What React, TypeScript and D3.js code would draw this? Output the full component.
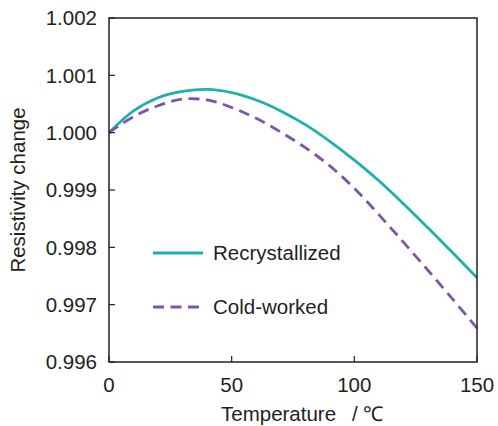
import React from 'react';
import * as d3 from 'd3';

// temperatures in °C
const temps = [0, 10, 20, 30, 40, 50, 60, 70, 80, 90, 100, 110, 120, 130, 140, 150];

// resistivity change (ratio)
const recrystallized = [
  1.0, 1.00038, 1.00061, 1.00072, 1.000755, 1.0007, 1.00057, 1.00038, 1.00014,
  0.99985, 0.99952, 0.99916, 0.99876, 0.99834, 0.99791, 0.99747,
];
const coldWorked = [
  1.0, 1.00028, 1.00047, 1.000585, 1.00057, 1.00044, 1.00025, 1.00001, 0.99974,
  0.99942, 0.99903, 0.99857, 0.99809, 0.9976, 0.9971, 0.99659,
];

const xTicks = [0, 50, 100, 150];
const yTicks = [0.996, 0.997, 0.998, 0.999, 1.0, 1.001, 1.002];

const series = [
  { name: 'Recrystallized', values: recrystallized, color: '#1fb0ab', dash: null },
  { name: 'Cold-worked', values: coldWorked, color: '#7d55a8', dash: '11,6.5' },
];

const W = 498;
const H = 426;
const margin = { top: 18, right: 21, bottom: 64, left: 109 };
const font = '"Liberation Sans", Arial, sans-serif';
const fs = 20.5;
const ink = '#231f20';

export default function App() {
  const x = d3.scaleLinear().domain([0, 150]).range([margin.left, W - margin.right]);
  const y = d3.scaleLinear().domain([0.996, 1.002]).range([H - margin.bottom, margin.top]);

  const line = d3
    .line<number>()
    .x((_, i) => x(temps[i]))
    .y((d) => y(d))
    .curve(d3.curveCatmullRom.alpha(0.5));

  const [x0, x1] = x.range();
  const [y0, y1] = y.range();

  return (
    <div style={{ position: 'fixed', left: 0, top: 0 }}>
      <svg width={W} height={H} style={{ display: 'block', background: '#fff' }}>
        {/* curves */}
        {series.map((s) => (
          <path
            key={s.name}
            d={line(s.values) || ''}
            fill="none"
            stroke={s.color}
            strokeWidth={2.8}
            strokeDasharray={s.dash || undefined}
          />
        ))}

        {/* frame */}
        <rect x={x0} y={y1} width={x1 - x0} height={y0 - y1} fill="none" stroke={ink} strokeWidth={1.5} />

        {/* y ticks */}
        {yTicks.map((t) => (
          <g key={t}>
            <line x1={x0} x2={x0 + 6} y1={y(t)} y2={y(t)} stroke={ink} strokeWidth={1.2} />
            <text x={97} y={y(t)} dy="0.36em" textAnchor="end" fontSize={fs} fontFamily={font} fill={ink}>
              {d3.format('.3f')(t)}
            </text>
          </g>
        ))}

        {/* x ticks */}
        {xTicks.map((t) => (
          <g key={t}>
            <line x1={x(t)} x2={x(t)} y1={y0} y2={y0 - 6} stroke={ink} strokeWidth={1.2} />
            <text x={x(t)} y={392} textAnchor="middle" fontSize={fs} fontFamily={font} fill={ink}>
              {t}
            </text>
          </g>
        ))}

        {/* axis titles */}
        <text x={221} y={421} fontSize={fs} fontFamily={font} fill={ink}>
          Temperature
        </text>
        <text x={352} y={421} fontSize={fs} fontFamily={font} fill={ink}>
          / ℃
        </text>
        <text
          transform={`translate(25,${(y0 + y1) / 2}) rotate(-90)`}
          textAnchor="middle"
          fontSize={fs}
          fontFamily={font}
          fill={ink}
        >
          Resistivity change
        </text>

        {/* legend */}
        {series.map((s, i) => (
          <g key={s.name} transform={`translate(153,${253 + i * 54})`}>
            <line x1={0} x2={50} y1={0} y2={0} stroke={s.color} strokeWidth={2.8} strokeDasharray={s.dash || undefined} />
            <text x={60} y={0} dy="0.36em" fontSize={fs} fontFamily={font} fill={ink}>
              {s.name}
            </text>
          </g>
        ))}
      </svg>
    </div>
  );
}
